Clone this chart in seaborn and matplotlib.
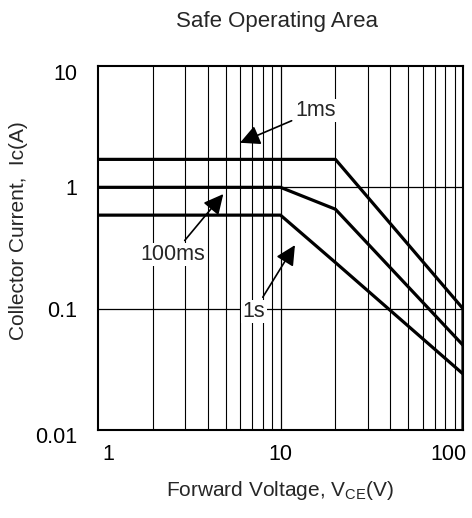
import matplotlib
matplotlib.use("Agg")
import matplotlib.pyplot as plt
import matplotlib.transforms as mtransforms
import numpy as np
import pandas as pd
import seaborn as sns

# Safe operating area curves
vce_1ms = [1, 20, 100, 100]
ic_1ms = [1.7, 1.7, 0.1, 0.01]
vce_100ms = [1, 10, 20, 100]
ic_100ms = [1.0, 1.0, 0.66, 0.05]
vce_1s = [1, 10, 20, 100]
ic_1s = [0.59, 0.59, 0.24, 0.029]

x_ticks = [1, 10, 100]
x_labels = ["1", "10", "100"]
y_ticks = [0.01, 0.1, 1, 10]
y_labels = ["0.01", "0.1", "1", "10"]

# label text, text position, arrow head position
notes = [
    ("1ms", (15.6, 4.3), (6.0, 2.33)),
    ("100ms", (2.58, 0.28), (4.86, 0.88)),
    ("1s", (7.16, 0.095), (12.0, 0.334)),
]

df = pd.concat([
    pd.DataFrame({"vce": vce_1ms, "ic": ic_1ms, "pulse": "1ms"}),
    pd.DataFrame({"vce": vce_100ms, "ic": ic_100ms, "pulse": "100ms"}),
    pd.DataFrame({"vce": vce_1s, "ic": ic_1s, "pulse": "1s"}),
], ignore_index=True)

sns.set_style("white")
plt.rcParams["font.family"] = ["Liberation Sans", "DejaVu Sans"]

fig = plt.figure(figsize=(4.72, 5.18), dpi=100)
ax = fig.add_axes([98 / 472, 1 - 430 / 518, 365 / 472, 364 / 518])

ax.set_xscale("log")
ax.set_yscale("log")
ax.set_xlim(1, 100)
ax.set_ylim(0.01, 10)

# grid: every minor line vertically, decades only horizontally
for dec in [1, 10]:
    for m in range(2, 10):
        ax.axvline(dec * m, color="black", lw=0.8, zorder=1)
ax.axvline(10, color="black", lw=0.9, zorder=1)
for yv in [0.1, 1]:
    ax.axhline(yv, color="black", lw=0.9, zorder=1)

sns.lineplot(data=df, x="vce", y="ic", hue="pulse", sort=False,
             estimator=None, palette=["black", "black", "black"], lw=2.3,
             legend=False, ax=ax, zorder=3)

for txt, pos, head in notes:
    ax.annotate(txt, xy=head, xytext=pos, ha="center", va="center",
                fontsize=15.5, zorder=5,
                bbox=dict(fc="white", ec="none", pad=1),
                arrowprops=dict(arrowstyle="-|>", color="black", lw=1.2,
                                mutation_scale=30, shrinkA=2, shrinkB=0))

ax.set_xticks(x_ticks)
ax.set_xticklabels(x_labels)
ax.set_yticks(y_ticks)
ax.set_yticklabels(y_labels)
ax.minorticks_off()
ax.tick_params(axis="both", length=0, labelsize=15.5, colors="black")
ax.tick_params(axis="x", pad=10)
ax.tick_params(axis="y", pad=15)
xl = ax.get_xticklabels()
xl[0].set_ha("left")
xl[0].set_transform(xl[0].get_transform() + mtransforms.ScaledTranslation(4 / 100, 0, fig.dpi_scale_trans))
xl[-1].set_ha("right")
xl[-1].set_transform(xl[-1].get_transform() + mtransforms.ScaledTranslation(4 / 100, 0, fig.dpi_scale_trans))
yl = ax.get_yticklabels()
yl[0].set_transform(yl[0].get_transform() + mtransforms.ScaledTranslation(0, -5 / 100, fig.dpi_scale_trans))
yl[-1].set_transform(yl[-1].get_transform() + mtransforms.ScaledTranslation(0, -6 / 100, fig.dpi_scale_trans))

for s in ax.spines.values():
    s.set_color("black")
    s.set_linewidth(1.5)

ax.set_xlabel("Forward Voltage, V$_{\\mathregular{CE}}$(V)", fontsize=15)
ax.xaxis.set_label_coords(0.5, -(490 - 430) / 364)
ax.xaxis.label.set_va("center")
ax.set_ylabel("Collector Current,  Ic(A)", fontsize=15)
ax.yaxis.set_label_coords(-(98 - 19) / 365, (430 - 231) / 364)
ax.yaxis.label.set_va("center")

fig.text(277 / 472, 1 - 21 / 518, "Safe Operating Area", ha="center",
         va="center", fontsize=16)

fig.savefig("out.png", dpi=100, facecolor="white")
